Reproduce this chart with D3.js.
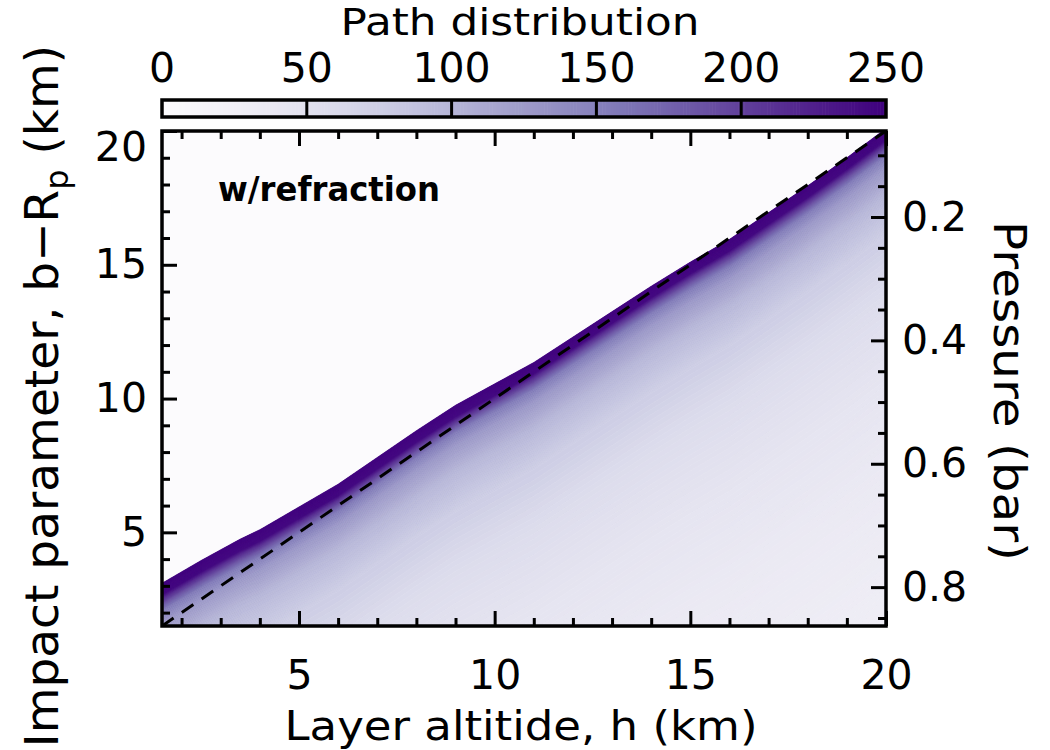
<!DOCTYPE html>
<html>
<head>
<meta charset="utf-8">
<script src="https://cdn.jsdelivr.net/npm/d3@7"></script>
<style>
body { margin: 0; background: #fff; }
text { font-family: "DejaVu Sans", sans-serif; fill: #000; }
</style>
</head>
<body>
<div id="chart"></div>
<script>
// top edge of the ray-path band (with refraction): layer altitude h -> b - Rp (km)
var edgeH = [1.5, 2.5, 3.5, 4.0, 5.0, 6.0, 7.0, 8.0, 9.0, 10.0, 11.0, 12.0, 13.0, 14.0, 15.0, 16.0, 17.0, 18.0, 19.0, 20.0];
var edgeB = [3.1, 3.95, 4.75, 5.1, 5.95, 6.8, 7.8, 8.8, 9.75, 10.55, 11.35, 12.3, 13.25, 14.2, 15.1, 15.95, 16.95, 17.95, 19.0, 20.1];

// path distribution below that edge, by depth under the edge (km)
var depthKm = [0, 0.45, 0.6, 0.8, 1.0, 1.5, 2.5, 4, 6, 9, 13, 19];
var pathVal = [250, 245, 215, 185, 160, 130, 100, 76, 58, 46, 36, 28];

// no refraction: b - Rp = h
var straightH = [1.5, 20];

var xTicks = [5, 10, 15, 20];
var yTicks = [5, 10, 15, 20];
var pTicks = [0.2, 0.4, 0.6, 0.8];
var cbTicks = [0, 50, 100, 150, 200, 250];

var w = 1050, h = 750;
var pL = 162, pR = 886, pT = 131, pB = 626;

var x = d3.scaleLinear().domain([1.5, 20]).range([pL, pR]);
var y = d3.scaleLinear().domain([1.5, 20]).range([pB, pT]);
var yp = d3.scaleLinear().domain([0.0606, 0.863]).range([pT, pB]);
var color = d3.scaleSequential(d3.interpolatePurples).domain([0, 250]);
var cbx = d3.scaleLinear().domain([0, 250]).range([pL, pR]);
var edge = d3.scaleLinear().domain(edgeH).range(edgeB);
var depthToVal = d3.scaleLinear().domain(depthKm).range(pathVal).clamp(true);

var svg = d3.select("#chart").append("svg")
    .attr("width", w)
    .attr("height", h);

svg.append("defs").append("clipPath").attr("id", "plotclip")
    .append("rect")
    .attr("x", pL).attr("y", pT)
    .attr("width", pR - pL).attr("height", pB - pT);

// colour bar
var cb = svg.append("g");
cb.selectAll("rect.cell")
    .data(d3.range(0, 250, 1))
    .enter().append("rect")
    .attr("class", "cell")
    .attr("x", function(d) { return cbx(d); })
    .attr("y", 100)
    .attr("width", function(d) { return cbx(d + 1) - cbx(d) + 0.6; })
    .attr("height", 17)
    .attr("fill", function(d) { return color(d + 0.5); });
cb.selectAll("line.sep")
    .data(cbTicks.slice(1, -1))
    .enter().append("line")
    .attr("class", "sep")
    .attr("x1", function(d) { return cbx(d); })
    .attr("x2", function(d) { return cbx(d); })
    .attr("y1", 100).attr("y2", 117)
    .attr("stroke", "#000").attr("stroke-width", 3);
cb.append("rect")
    .attr("x", pL).attr("y", 100)
    .attr("width", pR - pL).attr("height", 17)
    .attr("fill", "none").attr("stroke", "#000").attr("stroke-width", 3.5);
cb.selectAll("text")
    .data(cbTicks)
    .enter().append("text")
    .attr("x", function(d) { return cbx(d); })
    .attr("y", 82)
    .attr("text-anchor", "middle")
    .style("font-size", "41px")
    .text(function(d) { return d; });

svg.append("text")
    .attr("x", 520).attr("y", 35)
    .attr("text-anchor", "middle")
    .attr("textLength", 359).attr("lengthAdjust", "spacingAndGlyphs")
    .style("font-size", "38px")
    .text("Path distribution");

// heat map: background (no paths) + strips below the refraction edge
var plot = svg.append("g").attr("clip-path", "url(#plotclip)");
plot.append("rect")
    .attr("x", pL).attr("y", pT)
    .attr("width", pR - pL).attr("height", pB - pT)
    .attr("fill", color(0));

var steps = d3.range(0, 1, 0.02).concat(d3.range(1, 4, 0.05), d3.range(4, 21, 0.2));
var strips = [];
for (var i = 0; i < steps.length - 1; i++) {
    strips.push({ d0: steps[i], d1: steps[i + 1] });
}
var stripLine = d3.line();
plot.selectAll("path.strip")
    .data(strips)
    .enter().append("path")
    .attr("class", "strip")
    .attr("d", function(s) {
        var upper = edgeH.map(function(hh) { return [x(hh), y(edge(hh) - s.d0)]; });
        var lower = edgeH.slice().reverse().map(function(hh) { return [x(hh), y(edge(hh) - s.d1)]; });
        return stripLine(upper.concat(lower)) + "Z";
    })
    .attr("fill", function(s) { return color(depthToVal((s.d0 + s.d1) / 2)); })
    .attr("stroke", function(s) { return color(depthToVal((s.d0 + s.d1) / 2)); })
    .attr("stroke-width", 0.6);

plot.append("path")
    .datum(straightH)
    .attr("d", d3.line().x(function(d) { return x(d); }).y(function(d) { return y(d); }))
    .attr("fill", "none")
    .attr("stroke", "#000")
    .attr("stroke-width", 3)
    .attr("stroke-dasharray", "14,10");

svg.append("text")
    .attr("x", 218).attr("y", 201)
    .style("font-size", "33px")
    .style("font-weight", "bold")
    .attr("textLength", 222).attr("lengthAdjust", "spacingAndGlyphs")
    .text("w/refraction");

// axes
function minor(lo, hi, step, majors) {
    return d3.range(lo, hi + step / 2, step).filter(function(v) {
        return !majors.some(function(m) { return Math.abs(m - v) < 1e-6; });
    });
}
var xMinor = minor(2, 20, 1, xTicks);
var yMinor = minor(2, 20, 1, yTicks);
var pMinor = minor(0.1, 0.85, 0.05, pTicks);

function styleAxis(g) {
    g.select(".domain").remove();
    g.selectAll(".tick line").attr("stroke", "#000").attr("stroke-width", 3);
    g.selectAll(".tick text").style("font-size", "41px").attr("fill", "#000");
}

svg.append("g").attr("transform", "translate(0," + pB + ")")
    .call(d3.axisBottom(x).tickValues(xTicks).tickSize(-15).tickPadding(34).tickFormat(d3.format("d")))
    .call(styleAxis);
svg.append("g").attr("transform", "translate(0," + pB + ")")
    .call(d3.axisBottom(x).tickValues(xMinor).tickSize(-8).tickFormat(""))
    .call(styleAxis);
svg.append("g").attr("transform", "translate(0," + pT + ")")
    .call(d3.axisTop(x).tickValues(xTicks).tickSize(-15).tickFormat(""))
    .call(styleAxis);
svg.append("g").attr("transform", "translate(0," + pT + ")")
    .call(d3.axisTop(x).tickValues(xMinor).tickSize(-8).tickFormat(""))
    .call(styleAxis);

var yAxisG = svg.append("g").attr("transform", "translate(" + pL + ",0)")
    .call(d3.axisLeft(y).tickValues(yTicks).tickSize(-15).tickPadding(15).tickFormat(d3.format("d")))
    .call(styleAxis);
// top label sits a little lower, below the colour bar
yAxisG.selectAll(".tick text").filter(function(d) { return d === 20; }).attr("dy", "0.72em");
svg.append("g").attr("transform", "translate(" + pL + ",0)")
    .call(d3.axisLeft(y).tickValues(yMinor).tickSize(-8).tickFormat(""))
    .call(styleAxis);

svg.append("g").attr("transform", "translate(" + pR + ",0)")
    .call(d3.axisRight(yp).tickValues(pTicks).tickSize(-15).tickPadding(16).tickFormat(d3.format(".1f")))
    .call(styleAxis);
svg.append("g").attr("transform", "translate(" + pR + ",0)")
    .call(d3.axisRight(yp).tickValues(pMinor).tickSize(-8).tickFormat(""))
    .call(styleAxis);

svg.append("rect")
    .attr("x", pL).attr("y", pT)
    .attr("width", pR - pL).attr("height", pB - pT)
    .attr("fill", "none").attr("stroke", "#000").attr("stroke-width", 3.5);

// axis titles
svg.append("text")
    .attr("x", 521).attr("y", 740)
    .attr("text-anchor", "middle")
    .attr("textLength", 473).attr("lengthAdjust", "spacingAndGlyphs")
    .style("font-size", "40px")
    .text("Layer altitide, h (km)");

var yl = svg.append("text")
    .attr("transform", "translate(58,396) rotate(-90)")
    .attr("text-anchor", "middle")
    .style("font-size", "47px");
yl.append("tspan").text("Impact parameter, b\u2212R");
yl.append("tspan").attr("dy", 10).style("font-size", "32px").text("p");
yl.append("tspan").attr("dy", -10).text(" (km)");

svg.append("text")
    .attr("transform", "translate(994,391) rotate(90)")
    .attr("text-anchor", "middle")
    .attr("textLength", 340).attr("lengthAdjust", "spacingAndGlyphs")
    .style("font-size", "45px")
    .text("Pressure (bar)");
</script>
</body>
</html>
